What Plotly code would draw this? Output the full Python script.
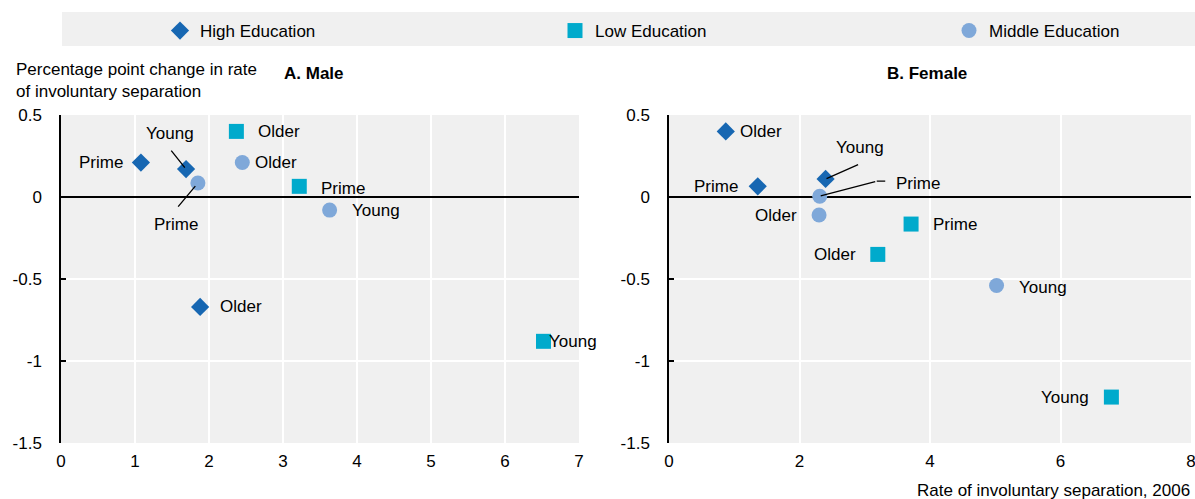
import plotly.graph_objects as go

# ---------------- data ----------------
groups = ["High Education", "Low Education", "Middle Education"]
ages = ["Prime", "Young", "Older"]

# Male (panel A): x = rate 2006, y = pp change
male_high_x = [1.08, 1.69, 1.88]
male_high_y = [0.21, 0.17, -0.67]
male_low_x = [3.22, 6.52, 2.37]
male_low_y = [0.065, -0.88, 0.40]
male_mid_x = [1.85, 3.63, 2.45]
male_mid_y = [0.085, -0.08, 0.21]

# Female (panel B)
female_high_x = [1.36, 2.40, 0.87]
female_high_y = [0.065, 0.11, 0.40]
female_low_x = [3.71, 6.78, 3.20]
female_low_y = [-0.165, -1.22, -0.35]
female_mid_x = [2.31, 5.02, 2.30]
female_mid_y = [0.005, -0.54, -0.11]

y_tickvals = [0.5, 0, -0.5, -1, -1.5]
y_ticktext = ["0.5", "0", "-0.5", "-1", "-1.5"]
male_xticks = [0, 1, 2, 3, 4, 5, 6, 7]
female_xticks = [0, 2, 4, 6, 8]

# ---------------- style ----------------
W, H = 1195, 499
FONT = "Liberation Sans Narrow, Arial Narrow, Liberation Sans, Arial, sans-serif"
FS = 17
colors = {"High Education": "#1767B2", "Low Education": "#00AACC", "Middle Education": "#7FA8D9"}
symbols = {"High Education": "diamond", "Low Education": "square", "Middle Education": "circle"}
sizes = {"High Education": 14, "Low Education": 15, "Middle Education": 15}
legend_ids = {"High Education": "legend", "Low Education": "legend2", "Middle Education": "legend3"}
legend_px = {"High Education": 160, "Low Education": 555, "Middle Education": 949}

def px_x(p):
    return p / W

def px_y(p):
    return 1 - p / H

# label placement per point (anchor, xshift, yshift) in pixels
male_label_pos = {
    "High Education": [("right", -16, 0), ("center", -16, 36), ("left", 18, 0)],
    "Low Education": [("left", 20, -2), ("left", 4, 0), ("left", 20, 0)],
    "Middle Education": [("center", -22, -41), ("left", 20, 0), ("left", 11, 0)],
}
female_label_pos = {
    "High Education": [("right", -18, 0), ("center", 34, 31), ("left", 12, 0)],
    "Low Education": [("left", 20, 0), ("right", -20, 0), ("right", -20, 0)],
    "Middle Education": [("left", 74, 13), ("left", 20, -2), ("right", -20, 0)],
}

fig = go.Figure()

panels = [
    ("x", "y", {"High Education": (male_high_x, male_high_y),
                "Low Education": (male_low_x, male_low_y),
                "Middle Education": (male_mid_x, male_mid_y)}, male_label_pos, True),
    ("x2", "y2", {"High Education": (female_high_x, female_high_y),
                  "Low Education": (female_low_x, female_low_y),
                  "Middle Education": (female_mid_x, female_mid_y)}, female_label_pos, False),
]

annotations = []
for xa, ya, series, label_pos, show in panels:
    for g in groups:
        xs, ys = series[g]
        fig.add_trace(go.Scatter(
            x=xs, y=ys, mode="markers", name=g, showlegend=show, legendgroup=g,
            legend=legend_ids[g],
            xaxis=xa, yaxis=ya, cliponaxis=False,
            marker=dict(symbol=symbols[g], size=sizes[g], color=colors[g], line=dict(width=0)),
            hoverinfo="x+y+name",
        ))
        for i, age in enumerate(ages):
            anchor, xs_, ys_ = label_pos[g][i]
            annotations.append(dict(
                x=xs[i], y=ys[i], xref=xa, yref=ya, text=age, showarrow=False,
                xanchor=anchor, yanchor="middle", xshift=xs_, yshift=ys_,
                font=dict(family=FONT, size=FS, color="#000"),
            ))

# leader lines
def leader(x, y, xa, ya, ax, ay, xshift=0, yshift=0, standoff=0):
    return dict(x=x, y=y, xref=xa, yref=ya, text="", showarrow=True, arrowhead=0,
                arrowwidth=1.3, arrowcolor="#000", ax=ax, ay=ay, axref="pixel", ayref="pixel",
                xshift=xshift, yshift=yshift, standoff=standoff)

annotations.append(leader(male_high_x[1], male_high_y[1], "x", "y", -16, -20, standoff=2))
annotations.append(leader(male_mid_x[0], male_mid_y[0], "x", "y", -21, 25, standoff=4))
annotations.append(leader(female_high_x[1], female_high_y[1], "x2", "y2", 34, -15, standoff=1))
annotations.append(leader(female_mid_x[0], female_mid_y[0], "x2", "y2", 57, -15, standoff=1))
annotations.append(leader(female_mid_x[0], female_mid_y[0], "x2", "y2", 10, 0, xshift=57, yshift=15))

# titles / axis titles
annotations += [
    dict(xref="paper", yref="paper", x=px_x(14), y=px_y(58), xanchor="left", yanchor="top",
         align="left", showarrow=False,
         text="Percentage point change in rate<br>of involuntary separation",
         font=dict(family=FONT, size=FS, color="#000")),
    dict(xref="paper", yref="paper", x=px_x(314), y=px_y(73), xanchor="center", yanchor="middle",
         showarrow=False, text="<b>A. Male</b>", font=dict(family=FONT, size=FS, color="#000")),
    dict(xref="paper", yref="paper", x=px_x(927), y=px_y(73), xanchor="center", yanchor="middle",
         showarrow=False, text="<b>B. Female</b>", font=dict(family=FONT, size=FS, color="#000")),
    dict(xref="paper", yref="paper", x=px_x(1192), y=px_y(490), xanchor="right", yanchor="middle",
         showarrow=False, text="Rate of involuntary separation, 2006",
         font=dict(family=FONT, size=FS, color="#000")),
]

axis_common = dict(showgrid=True, gridcolor="#ffffff", gridwidth=1.5, zeroline=False,
                   tickfont=dict(family=FONT, size=FS, color="#000"), ticks="",
                   ticklabelstandoff=6, ticklabeloverflow="allow",
                   showline=False, fixedrange=True)
yaxis_common = dict(showgrid=True, gridcolor="#ffffff", gridwidth=1.5, range=[-1.5, 0.5],
                    tickvals=y_tickvals, ticktext=y_ticktext, zeroline=True,
                    zerolinecolor="#000", zerolinewidth=1.5,
                    showline=True, linecolor="#000", linewidth=1.5,
                    ticks="inside", ticklen=5, tickcolor="#000", tickwidth=1.5,
                    ticklabelstandoff=14,
                    tickfont=dict(family=FONT, size=FS, color="#000"), fixedrange=True)
# small tick marks standing on the zero line
zero_tick_axis = dict(side="top", anchor="free", position=px_y(197), showgrid=False,
                      zeroline=False, showline=False, ticks="outside", ticklen=5,
                      tickcolor="#000", tickwidth=1.5, showticklabels=False, fixedrange=True)

legend_common = dict(orientation="h", y=px_y(31), xanchor="left", yanchor="middle",
                     bgcolor="rgba(0,0,0,0)",
                     font=dict(family=FONT, size=FS, color="#000"),
                     itemclick=False, itemdoubleclick=False)

fig.update_layout(
    width=W, height=H,
    margin=dict(l=0, r=0, t=0, b=0, autoexpand=False),
    paper_bgcolor="#ffffff", plot_bgcolor="#f0f0f0",
    font=dict(family=FONT, size=FS, color="#000"),
    xaxis=dict(domain=[px_x(61), px_x(579)], range=[0, 7], tickvals=male_xticks, anchor="y",
               **axis_common),
    yaxis=dict(domain=[px_y(443), px_y(115)], anchor="x", **yaxis_common),
    xaxis2=dict(domain=[px_x(669), px_x(1191)], range=[0, 8], tickvals=female_xticks, anchor="y2",
                **axis_common),
    yaxis2=dict(domain=[px_y(443), px_y(115)], anchor="x2", **yaxis_common),
    xaxis3=dict(overlaying="x", domain=[px_x(61), px_x(579)], range=[0, 7],
                tickvals=male_xticks[1:], **zero_tick_axis),
    xaxis4=dict(overlaying="x2", domain=[px_x(669), px_x(1191)], range=[0, 8],
                tickvals=female_xticks[1:], **zero_tick_axis),
    annotations=annotations,
    shapes=[dict(type="rect", xref="paper", yref="paper", x0=px_x(62), x1=1, y0=px_y(46), y1=px_y(12),
                 fillcolor="#f0f0f0", line=dict(width=0), layer="below")],
    legend=dict(x=px_x(legend_px["High Education"]), **legend_common),
    legend2=dict(x=px_x(legend_px["Low Education"]), **legend_common),
    legend3=dict(x=px_x(legend_px["Middle Education"]), **legend_common),
    showlegend=True,
)

fig.write_html("out.html", config={"displayModeBar": False},
               post_script="document.body.style.margin='0';")
